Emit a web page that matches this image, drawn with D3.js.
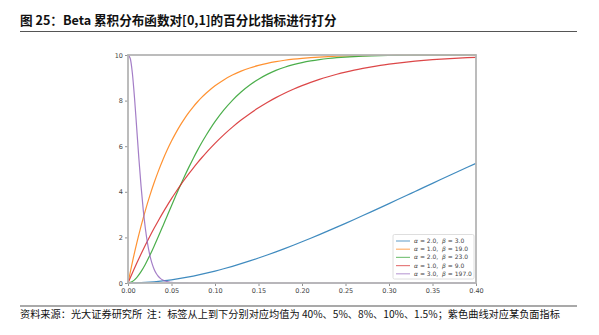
<!DOCTYPE html>
<html>
<head>
<meta charset="utf-8">
<script src="https://cdn.jsdelivr.net/npm/d3@7"></script>
<style>
  html, body { margin: 0; padding: 0; background: #fff; }
  svg { display: block; }
</style>
</head>
<body>
<svg id="chart" width="599" height="335"></svg>
<script>
// x positions shared by the four rising curves
const xGrid = [0, 0.005, 0.01, 0.015, 0.02, 0.025, 0.03, 0.035, 0.04, 0.045, 0.05,
  0.055, 0.06, 0.065, 0.07, 0.075, 0.08, 0.085, 0.09, 0.095, 0.10,
  0.11, 0.12, 0.13, 0.14, 0.15, 0.16, 0.17, 0.18, 0.19, 0.20,
  0.21, 0.22, 0.23, 0.24, 0.25, 0.26, 0.27, 0.28, 0.29, 0.30,
  0.31, 0.32, 0.33, 0.34, 0.35, 0.36, 0.37, 0.38, 0.39, 0.40];

// score (0–10) for each curve
const scoreA2B3 = [0, 0.0015, 0.0059, 0.0132, 0.0234, 0.0363, 0.0519, 0.0701, 0.0910, 0.1143, 0.1402,
  0.1685, 0.1991, 0.2321, 0.2673, 0.3047, 0.3443, 0.3859, 0.4297, 0.4754, 0.5230,
  0.6239, 0.7320, 0.8468, 0.9680, 1.0952, 1.2280, 1.3660, 1.5089, 1.6564, 1.8080,
  1.9635, 2.1224, 2.2846, 2.4496, 2.6172, 2.7870, 2.9588, 3.1322, 3.3071, 3.4830,
  3.6598, 3.8371, 4.0148, 4.1926, 4.3702, 4.5474, 4.7240, 4.8996, 5.0742, 5.2480];

const scoreA1B19 = [0, 0.908, 1.738, 2.496, 3.187, 3.819, 4.394, 4.918, 5.396, 5.831, 6.226,
  6.586, 6.914, 7.211, 7.481, 7.727, 7.949, 8.151, 8.334, 8.499, 8.649,
  8.908, 9.119, 9.291, 9.431, 9.544, 9.636, 9.710, 9.770, 9.818, 9.856,
  9.887, 9.911, 9.930, 9.946, 9.958, 9.967, 9.975, 9.981, 9.985, 9.989,
  9.991, 9.993, 9.995, 9.996, 9.997, 9.998, 9.998, 9.999, 9.999, 9.999];

const scoreA2B23 = [0, 0.064, 0.239, 0.499, 0.826, 1.202, 1.612, 2.046, 2.492, 2.943, 3.392,
  3.834, 4.265, 4.682, 5.082, 5.464, 5.827, 6.170, 6.492, 6.794, 7.075,
  7.580, 8.013, 8.379, 8.685, 8.941, 9.151, 9.324, 9.465, 9.578, 9.669,
  9.742, 9.800, 9.846, 9.882, 9.910, 9.931, 9.948, 9.961, 9.971, 9.978,
  9.984, 9.988, 9.991, 9.994, 9.995, 9.997, 9.998, 9.998, 9.999, 9.999];

const scoreA1B9 = [0, 0.441, 0.865, 1.272, 1.663, 2.038, 2.398, 2.743, 3.075, 3.393, 3.698,
  3.990, 4.270, 4.539, 4.796, 5.042, 5.278, 5.504, 5.721, 5.928, 6.126,
  6.496, 6.835, 7.145, 7.427, 7.684, 7.918, 8.131, 8.324, 8.499, 8.658,
  8.801, 8.931, 9.048, 9.154, 9.249, 9.335, 9.411, 9.480, 9.542, 9.596,
  9.645, 9.689, 9.728, 9.762, 9.793, 9.820, 9.844, 9.865, 9.883, 9.899];

// the falling curve (negative indicator) needs a finer grid near zero
const xFine = [0, 0.0025, 0.005, 0.0075, 0.01, 0.0125, 0.015, 0.0175, 0.02, 0.0225, 0.025,
  0.0275, 0.03, 0.0325, 0.035, 0.0375, 0.04, 0.0425, 0.045, 0.0475, 0.05,
  0.055, 0.06, 0.07, 0.08, 0.10, 0.15, 0.20, 0.25, 0.30, 0.35, 0.40];
const scoreA3B197 = [10, 9.859, 9.211, 8.112, 6.794, 5.462, 4.249, 3.217, 2.381, 1.729, 1.236,
  0.871, 0.606, 0.418, 0.285, 0.193, 0.129, 0.086, 0.057, 0.037, 0.024,
  0.010, 0.004, 0.001, 0, 0, 0, 0, 0, 0, 0, 0];

const seriesNames = ["α = 2.0,  β = 3.0", "α = 1.0,  β = 19.0", "α = 2.0,  β = 23.0",
  "α = 1.0,  β = 9.0", "α = 3.0,  β = 197.0"];
const seriesColors = ["#1f77b4", "#ff7f0e", "#2ca02c", "#d62728", "#9467bd"];

const xTicks = [0, 0.05, 0.10, 0.15, 0.20, 0.25, 0.30, 0.35, 0.40];
const yTicks = [0, 2, 4, 6, 8, 10];

const titleText = "图 25：Beta 累积分布函数对[0,1]的百分比指标进行打分";
const sourceText = "资料来源：光大证券研究所  注：标签从上到下分别对应均值为 40%、5%、8%、10%、1.5%；紫色曲线对应某负面指标";

const svg = d3.select("#chart");
const cjk = "'Noto Sans CJK SC', 'Noto Sans', sans-serif";
const tickFont = "'DejaVu Sans', sans-serif";

// header and footer
svg.append("text").attr("x", 20).attr("y", 25)
  .attr("font-family", cjk).attr("font-weight", 700).attr("font-size", 12.6)
  .attr("fill", "#111").text(titleText);
svg.append("line").attr("x1", 20).attr("x2", 577).attr("y1", 31.5).attr("y2", 31.5)
  .attr("stroke", "#555").attr("stroke-width", 1.2);
svg.append("line").attr("x1", 20).attr("x2", 577).attr("y1", 306).attr("y2", 306)
  .attr("stroke", "#555").attr("stroke-width", 1.2);
svg.append("text").attr("x", 20).attr("y", 318)
  .attr("font-family", cjk).attr("font-size", 10.2)
  .attr("fill", "#111").attr("xml:space", "preserve").text(sourceText);

// plot area
const plotLeft = 128, plotRight = 476, plotTop = 55, plotBottom = 283;
const x = d3.scaleLinear().domain([0, 0.4]).range([plotLeft, plotRight]);
const y = d3.scaleLinear().domain([0, 10]).range([plotBottom, plotTop]);

const series = [
  { xs: xGrid, ys: scoreA2B3 },
  { xs: xGrid, ys: scoreA1B19 },
  { xs: xGrid, ys: scoreA2B23 },
  { xs: xGrid, ys: scoreA1B9 },
  { xs: xFine, ys: scoreA3B197 }
];

const line = d3.line().x(d => x(d[0])).y(d => y(d[1])).curve(d3.curveMonotoneX);

const plot = svg.append("g");
series.forEach((s, i) => {
  plot.append("path")
    .datum(s.xs.map((v, j) => [v, s.ys[j]]))
    .attr("d", line)
    .attr("fill", "none")
    .attr("stroke", seriesColors[i])
    .attr("stroke-width", 1.2)
    .attr("stroke-opacity", 0.85);
});

// axes
const xAxis = svg.append("g").attr("transform", `translate(0,${plotBottom})`)
  .call(d3.axisBottom(x).tickValues(xTicks).tickFormat(d3.format(".2f")).tickSizeOuter(0).tickSize(3).tickPadding(2));
const yAxis = svg.append("g").attr("transform", `translate(${plotLeft},0)`)
  .call(d3.axisLeft(y).tickValues(yTicks).tickFormat(d3.format("d")).tickSizeOuter(0).tickSize(3).tickPadding(2));
[xAxis, yAxis].forEach(a => {
  a.select(".domain").remove();
  a.selectAll(".tick line").attr("stroke", "#777").attr("stroke-width", 0.8);
  a.selectAll(".tick text").attr("font-family", tickFont).attr("font-size", 6.5).attr("fill", "#444");
});

// frame
svg.append("rect").attr("x", plotLeft).attr("y", plotTop)
  .attr("width", plotRight - plotLeft).attr("height", plotBottom - plotTop)
  .attr("fill", "none").attr("stroke", "#b5b5b5").attr("stroke-width", 1.8);

// legend
const lg = svg.append("g");
lg.append("rect").attr("x", 393).attr("y", 234.5).attr("width", 81).attr("height", 44.5)
  .attr("rx", 1.5).attr("fill", "#fff").attr("fill-opacity", 0.85)
  .attr("stroke", "#d6d6d6").attr("stroke-width", 0.8);
seriesNames.forEach((name, i) => {
  const yy = 241 + i * 8.2;
  lg.append("line").attr("x1", 396).attr("x2", 410).attr("y1", yy).attr("y2", yy)
    .attr("stroke", seriesColors[i]).attr("stroke-width", 1.2).attr("stroke-opacity", 0.6);
  const t = lg.append("text").attr("x", 414).attr("y", yy + 2)
    .attr("font-family", tickFont).attr("font-size", 6).attr("fill", "#444")
    .attr("xml:space", "preserve");
  const parts = name.split(/(α|β)/);
  parts.forEach(p => {
    if (!p) return;
    const ts = t.append("tspan").text(p);
    if (p === "α" || p === "β") ts.attr("font-style", "italic");
  });
});
</script>
</body>
</html>
